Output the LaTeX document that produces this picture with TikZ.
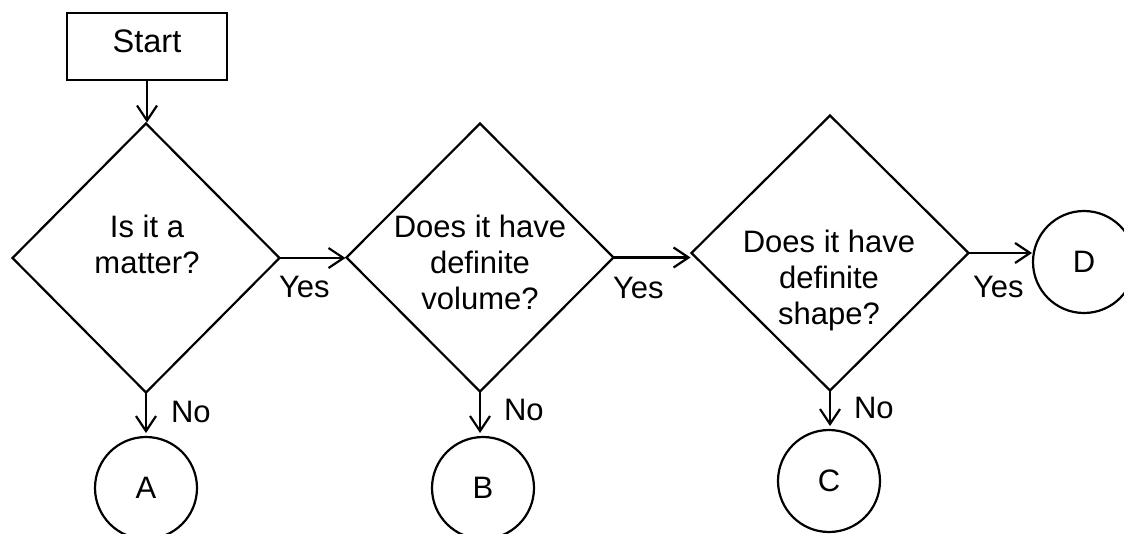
\documentclass[tikz,border=0pt]{standalone}
\usepackage{fontspec}
\setmainfont{Liberation Sans}
\usetikzlibrary{shapes.geometric,arrows.meta}
\begin{document}
\begin{tikzpicture}[x=1pt,y=-1pt,line width=2.2pt,
  txt/.style={font=\fontsize{31}{36}\selectfont,inner sep=0pt,align=center},
  lbl/.style={font=\fontsize{31}{36}\selectfont,inner sep=0pt,anchor=base west},
  dia/.style={draw,diamond,inner sep=0pt,outer sep=0pt},
  circ/.style={draw,circle,minimum size=102pt,inner sep=0pt,outer sep=0pt,font=\fontsize{31}{36}\selectfont},
  startbox/.style={draw,rectangle,minimum width=160pt,minimum height=67pt,inner sep=0pt,outer sep=0pt,font=\fontsize{32.5}{36}\selectfont,text depth=10pt},
  arr/.style={-{Straight Barb[length=15pt,width=20pt,line width=2.2pt]},shorten >=1pt}]
\useasboundingbox (0,0) rectangle (1124,533);
\clip (0,0) rectangle (1124,533);
% nodes
\node[startbox] (start) at (147,46.5) {Start};
\node[dia,minimum width=267pt,minimum height=269pt] (d1) at (146,258) {};
\node[dia,minimum width=267pt,minimum height=268pt] (d2) at (480,257.5) {};
\node[dia,minimum width=277pt,minimum height=275pt] (d3) at (830,253) {};
\node[txt] (t1) at (147,244) {Is it a\\matter?};
\node[txt] (t2) at (480,262) {Does it have\\definite\\volume?};
\node[txt] (t3) at (829,280) {Does it have\\definite\\shape?};
\node[circ] (A) at (146,488) {A};
\node[circ] (B) at (483,488) {B};
\node[circ] (C) at (829,481) {C};
\node[circ] (D) at (1084,262) {D};
% labels
\node[lbl] (y1) at (278,297) {Yes};
\node[lbl] (y2) at (612,298) {Yes};
\node[lbl] (y3) at (972,297) {Yes};
\node[lbl] (n1) at (170,422) {No};
\node[lbl] (n2) at (503,420) {No};
\node[lbl] (n3) at (853,418) {No};
% connectors
\draw[arr] (start.south) -- (start.south |- d1.north);
\draw[arr] (d1.east) -- (d1.east -| d2.west);
\draw[arr] (d2.east) -- (d2.east -| d3.west);
\draw[arr] (d3.east) -- (d3.east -| D.west);
\draw[arr,shorten >=4pt] (d1.south) -- (d1.south |- A.north);
\draw[arr,shorten >=4pt] (d2.south) -- (d2.south |- B.north);
\draw[arr,shorten >=4pt] (d3.south) -- (d3.south |- C.north);
\end{tikzpicture}
\end{document}
